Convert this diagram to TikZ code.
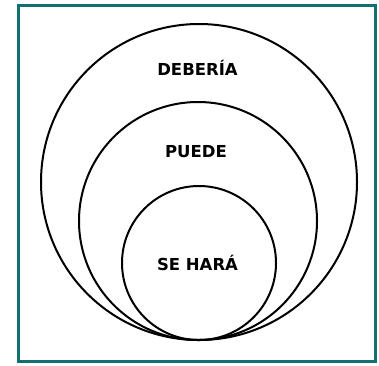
\documentclass[tikz,border=0pt]{standalone}
\usepackage{fontspec}
\setmainfont{DejaVu Sans}
\usepackage{xcolor}
\usepackage{tikz}
\definecolor{framecol}{RGB}{18,112,112}

\begin{document}
\begin{tikzpicture}[x=1pt, y=-1pt, every node/.style={align=center},
ring/.style={draw, circle, line width=2pt, inner sep=0pt},
lbl/.style={font=\fontsize{16.5}{19}\selectfont\bfseries}]
\useasboundingbox (0,0) rectangle (379,365);
\draw[framecol, line width=3pt] (18,5.5) rectangle (375.5,361.5);
% nested circles, all touching at the bottom
\node[ring, minimum size=316pt] (deberia) at (199,182) {};
\node[ring, minimum size=238pt] (puede) at (198,221) {};
\node[ring, minimum size=154pt] (sehara) at (199,263) {};
\node[lbl] (tdeberia) at (197.5,68) {DEBERÍA};
\node[lbl] (tpuede) at (196,152) {PUEDE};
\node[lbl] (tsehara) at (197.5,263) {SE HARÁ};
\end{tikzpicture}
\end{document}
